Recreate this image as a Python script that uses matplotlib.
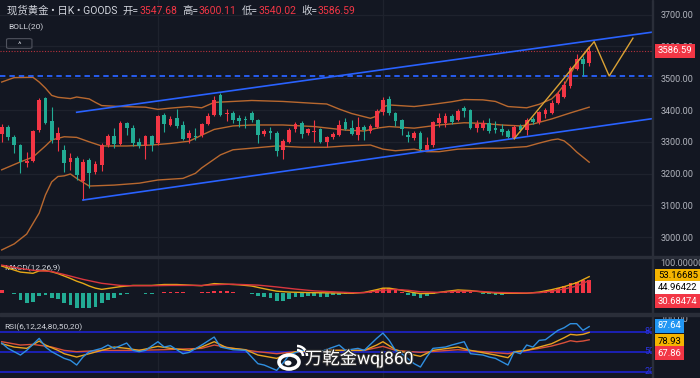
import matplotlib
matplotlib.use("Agg")
import matplotlib.pyplot as plt
import matplotlib.transforms as mtransforms
import matplotlib.patheffects as pe
from matplotlib.patches import Rectangle, Ellipse, Arc, FancyBboxPatch
import numpy as np

plt.rcParams['font.family'] = ['Roboto', 'Noto Sans CJK SC', 'DejaVu Sans']

# ---- daily candles (oldest first) ----
opens = [3325, 3347, 3316, 3290, 3235, 3241, 3337, 3437, 3364, 3306,
         3275, 3237, 3250, 3178, 3243, 3205, 3228, 3290, 3317, 3293,
         3358, 3345, 3300, 3288, 3318, 3297, 3385, 3353, 3375, 3353,
         3312, 3318, 3320, 3356, 3385, 3447, 3388, 3392, 3374, 3370,
         3390, 3368, 3325, 3333, 3328, 3273, 3300, 3340, 3359, 3327,
         3330, 3340, 3300, 3315, 3322, 3363, 3345, 3320, 3348, 3333,
         3348, 3395, 3435, 3390, 3368, 3320, 3311, 3328, 3275, 3290,
         3360, 3358, 3382, 3369, 3405, 3400, 3343, 3345, 3358, 3342,
         3341, 3334, 3313, 3351, 3338, 3372, 3362, 3388, 3390, 3421,
         3442, 3477, 3530, 3560, 3547.68]
highs = [3355, 3353, 3320, 3292, 3268, 3338, 3437, 3442, 3411, 3346,
         3290, 3265, 3256, 3245, 3250, 3240, 3295, 3325, 3345, 3365,
         3362, 3353, 3312, 3320, 3322, 3383, 3392, 3380, 3402, 3365,
         3337, 3345, 3360, 3390, 3443, 3455, 3403, 3398, 3385, 3380,
         3396, 3372, 3340, 3348, 3334, 3310, 3342, 3363, 3367, 3345,
         3368, 3345, 3318, 3330, 3369, 3375, 3368, 3378, 3353, 3355,
         3403, 3440, 3443, 3393, 3372, 3335, 3333, 3333, 3315, 3367,
         3390, 3390, 3386, 3402, 3412, 3403, 3370, 3368, 3374, 3364,
         3355, 3340, 3352, 3356, 3376, 3378, 3398, 3405, 3430, 3460,
         3490, 3540, 3575, 3570, 3600.11]
lows = [3300, 3305, 3266, 3203, 3222, 3237, 3330, 3355, 3297, 3272,
        3205, 3212, 3180, 3117, 3155, 3200, 3207, 3285, 3281, 3290,
        3322, 3287, 3280, 3245, 3270, 3290, 3332, 3350, 3343, 3305,
        3296, 3305, 3315, 3352, 3380, 3380, 3365, 3360, 3348, 3345,
        3362, 3296, 3318, 3310, 3255, 3246, 3296, 3332, 3312, 3323,
        3298, 3295, 3284, 3310, 3317, 3337, 3320, 3306, 3306, 3328,
        3345, 3385, 3385, 3350, 3322, 3300, 3305, 3270, 3272, 3285,
        3348, 3346, 3355, 3365, 3378, 3340, 3330, 3336, 3327, 3328,
        3322, 3312, 3310, 3330, 3320, 3355, 3355, 3375, 3388, 3418,
        3438, 3470, 3525, 3506, 3540.02]
closes = [3348, 3316, 3290, 3237, 3241, 3334, 3432, 3360, 3306, 3327,
          3233, 3249, 3196, 3238, 3202, 3230, 3290, 3318, 3292, 3360,
          3343, 3296, 3288, 3317, 3289, 3380, 3355, 3372, 3350, 3310,
          3328, 3314, 3355, 3382, 3433, 3385, 3392, 3370, 3367, 3368,
          3368, 3322, 3334, 3328, 3272, 3302, 3338, 3356, 3325, 3340,
          3334, 3300, 3314, 3325, 3353, 3340, 3325, 3348, 3336, 3350,
          3398, 3432, 3390, 3367, 3340, 3316, 3328, 3276, 3290, 3363,
          3375, 3382, 3363, 3398, 3396, 3343, 3355, 3360, 3333, 3338,
          3330, 3316, 3348, 3337, 3369, 3362, 3393, 3400, 3421, 3450,
          3480, 3533, 3560, 3545, 3586.59]

# ---- BOLL(20) bands, read at selected candles ----
boll_up_idx = [0, 2, 5, 6, 7, 8, 9, 11, 12, 14, 15, 16, 19, 23, 25, 27, 30, 32, 34, 37,
               40, 45, 50, 52, 54, 56, 59, 60, 61, 62, 66, 69, 72, 74, 77, 79, 81, 84, 86, 88,
               89, 90, 91, 92, 93, 94]
boll_up = [3488, 3502, 3503, 3488, 3469, 3446, 3440, 3436, 3441, 3435, 3424, 3414, 3411, 3409,
           3402, 3406, 3411, 3407, 3424, 3427, 3430, 3427, 3421, 3419, 3403, 3389, 3374, 3381,
           3410, 3416, 3411, 3418, 3426, 3433, 3432, 3427, 3411, 3407, 3418, 3435, 3454, 3479,
           3513, 3548, 3573, 3598]
boll_mid_idx = [0, 3, 5, 7, 8, 10, 12, 14, 16, 20, 24, 27, 30, 32, 34, 37, 40, 45, 50, 55,
                58, 60, 62, 66, 70, 74, 77, 80, 83, 85, 88, 91, 94]
boll_mid = [3212, 3237, 3252, 3287, 3306, 3316, 3314, 3300, 3287, 3287, 3290, 3295, 3302, 3321,
            3339, 3350, 3353, 3353, 3348, 3337, 3334, 3343, 3348, 3343, 3353, 3360, 3358, 3353,
            3350, 3356, 3372, 3391, 3409]
boll_low_idx = [0, 2, 4, 6, 7, 8, 9, 10, 11, 12, 14, 18, 22, 25, 29, 31, 32, 35, 37, 40,
                44, 48, 52, 55, 59, 61, 63, 66, 68, 70, 73, 77, 80, 84, 86, 88, 89, 90, 91, 92, 94]
boll_low = [2960, 2979, 3010, 3076, 3133, 3174, 3191, 3193, 3199, 3185, 3161, 3164, 3170, 3180,
            3185, 3201, 3218, 3259, 3275, 3280, 3287, 3283, 3283, 3287, 3290, 3277, 3272, 3277,
            3269, 3269, 3277, 3280, 3280, 3285, 3296, 3306, 3309, 3303, 3287, 3268, 3236]

# ---- drawn objects (candle index, price) ----
channel_top_idx, channel_top = [12, 104.5], [3393, 3646]
channel_bot_idx, channel_bot = [13, 104.5], [3117, 3374]
zigzag_idx, zigzag = [82, 94.8, 97.2, 101], [3310, 3615, 3507, 3626]
dash_level = 3507
last_close = 3586.59

# ---- MACD(12,26,9) ----
macd_hist = [8, -2, -4, -24, -33, -30, -11, -7, -18, -22,
             -35, -40, -51, -51, -51, -48, -35, -24, -18, -8,
             -3, -2, -2, -3, -3, -1, 2, 3, 3, 1,
             -1, -1, 1, 3, 6, 6, 5, 2, -1, -2,
             -3, -11, -13, -18, -26, -26, -22, -15, -13, -11,
             -11, -13, -13, -8, -6, -4, -3, -2, -1, 4,
             9, 15, 15, 10, 3, -8, -12, -18, -12, -5,
             -2, 1, 4, 6, 6, 2, -1, -3, -5, -6,
             -6, -5, -4, -2, -1, 1, 2, 6, 10, 16,
             22, 32, 36, 41, 42]
dif_idx = [0, 3, 5, 6, 7, 8, 9, 10, 11, 12, 13, 14, 15, 16, 17, 18, 19, 21, 24, 26,
           28, 30, 32, 34, 36, 38, 40, 42, 44, 46, 48, 50, 54, 56, 58, 60, 61, 62, 64, 66,
           67, 69, 71, 73, 75, 77, 80, 84, 86, 88, 90, 92, 94]
dif = [88, 68, 64, 72, 73, 69, 63, 55, 47, 38, 31, 22, 15, 11, 14, 17, 20, 24, 24, 27,
       27, 25, 23, 30, 28, 26, 22, 13, 5, 2, 1, 0, -1, -2, 1, 10, 15, 15, 8, 0,
       -3, -2, 4, 9, 7, 2, -2, -2, 2, 10, 20, 33, 53]
dea_idx = [0, 3, 5, 8, 10, 13, 16, 19, 21, 24, 27, 32, 35, 37, 41, 44, 47, 50, 56, 58,
           61, 63, 65, 67, 70, 73, 76, 79, 84, 86, 88, 90, 92, 94]
dea = [91, 80, 74, 70, 60, 44, 31, 24, 23, 23, 24, 24, 27, 28, 25, 19, 12, 6, 0, 0,
       8, 11, 8, 3, 1, 5, 5, 1, -1, 0, 5, 12, 22, 40]

# ---- RSI(6,12,24) ----
rsi6_idx = [0, 1, 3, 4, 6, 7, 8, 10, 11, 12, 13, 14, 16, 17, 18, 20, 21, 22, 23, 25,
            26, 27, 29, 30, 32, 34, 35, 37, 39, 40, 41, 42, 44, 45, 46, 48, 51, 54, 55, 57,
            58, 60, 61, 62, 63, 64, 66, 67, 68, 69, 71, 72, 74, 75, 77, 78, 79, 81, 82, 83,
            84, 85, 86, 87, 88, 89, 90, 91, 92, 93, 94]
rsi6 = [63, 55, 45, 52, 70, 57, 50, 40, 37, 30, 42, 50, 55, 60, 55, 63, 52, 50, 52, 65,
        57, 59, 47, 49, 60, 72, 57, 53, 52, 42, 32, 30, 22, 33, 45, 52, 50, 60, 52, 55,
        52, 70, 78, 67, 52, 47, 32, 27, 42, 55, 57, 60, 65, 47, 45, 42, 40, 30, 50, 47,
        60, 57, 67, 68, 75, 82, 86, 92, 92, 82, 87.64]
rsi12_idx = [0, 2, 4, 6, 7, 9, 10, 12, 14, 16, 18, 20, 22, 25, 27, 30, 32, 34, 36, 39,
             41, 44, 45, 47, 53, 58, 60, 61, 63, 66, 67, 69, 73, 75, 79, 81, 82, 84, 86, 88,
             90, 91, 92, 93, 94]
rsi12 = [62, 57, 55, 66, 60, 52, 47, 42, 47, 52, 57, 55, 52, 58, 55, 52, 57, 65, 56, 53,
         45, 40, 44, 50, 52, 52, 60, 65, 53, 45, 43, 52, 57, 52, 45, 41, 50, 52, 57, 62,
         71, 76, 75, 76, 78.93]
rsi24_idx = [0, 3, 5, 8, 10, 12, 16, 21, 26, 32, 34, 37, 41, 44, 47, 53, 58, 61, 63, 67,
             73, 77, 81, 84, 86, 88, 90, 91, 92, 93, 94]
rsi24 = [65, 60, 61, 57, 52, 50, 52, 52, 53, 55, 60, 55, 50, 47, 50, 52, 52, 58, 52, 49,
         53, 50, 47, 52, 55, 58.5, 63.5, 66.5, 65, 66, 67.86]
rsi_levels = [80, 50, 20]

price_ticks = [3000, 3100, 3200, 3300, 3400, 3500, 3600, 3700]
month_lines = [25, 61]

# ---- colours ----
BG = '#131722'
SEP = '#2a2e39'
GRID = '#1e222d'
TXT = '#d1d4dc'
AX_TXT = '#b2b5be'
UP = '#f23645'
DOWN = '#22ab94'
BOLL = '#b8682f'
BLUE = '#2962ff'
LEVEL = '#1c22c0'

W, H = 700, 378
fig = plt.figure(figsize=(W / 100, H / 100), dpi=100, facecolor=BG)


def panel(top, bottom):
    a = fig.add_axes([0, 1 - bottom / H, 652 / W, (bottom - top) / H])
    a.set_facecolor(BG)
    for s in a.spines.values():
        s.set_visible(False)
    a.yaxis.tick_right()
    a.tick_params(axis='y', length=0, pad=6, labelsize=6.5, labelcolor=AX_TXT)
    a.tick_params(axis='x', length=0, labelbottom=False)
    a.set_xlim(-0.27, 104.05)
    a.set_xticks(month_lines)
    a.grid(True, axis='x', color=GRID, lw=0.9)
    a.set_axisbelow(True)
    return a


ax = panel(0, 256)
axm = panel(258, 313)
axr = panel(316, 378)

# ---- main candles ----
idx = np.arange(len(opens))
o, h, l, c = map(np.array, (opens, highs, lows, closes))
cols = np.where(c >= o, UP, DOWN)
ax.vlines(idx, l, h, colors=cols, lw=0.8, zorder=3)
body = np.maximum(np.abs(c - o), 2.5)
ax.bar(idx, body, bottom=np.minimum(o, c), width=0.62, color=cols, lw=0, zorder=4)

ax.plot(boll_up_idx, boll_up, color=BOLL, lw=1.0, zorder=2)
ax.plot(boll_mid_idx, boll_mid, color=BOLL, lw=1.0, zorder=2)
ax.plot(boll_low_idx, boll_low, color=BOLL, lw=1.0, zorder=2)

ax.plot(channel_top_idx, channel_top, color=BLUE, lw=1.2, zorder=5)
ax.plot(channel_bot_idx, channel_bot, color=BLUE, lw=1.2, zorder=5)
ax.plot(zigzag_idx, zigzag, color='#dba235', lw=1.0, zorder=6)
ax.axhline(dash_level, color=BLUE, lw=1.3, ls=(0, (3, 2.2)), zorder=2)
ax.axhline(last_close, color='#b8323c', lw=0.8, ls=(0, (1, 1.5)), zorder=2)

ax.set_ylim(2941, 3746)
ax.set_yticks(price_ticks)
ax.set_yticklabels([f'{v:.2f}' for v in price_ticks])
ax.grid(True, axis='y', color=GRID, lw=0.9)

# ---- MACD panel ----
hcols = [UP if v >= 0 else DOWN for v in macd_hist]
axm.bar(idx, macd_hist, width=0.62, color=hcols, lw=0, zorder=3)
axm.plot(dif_idx, dif, color='#e6a817', lw=1.0, zorder=4)
axm.plot(dea_idx, dea, color='#d9363e', lw=1.0, zorder=4)
axm.set_ylim(-67, 114.5)
axm.set_yticks([100])
axm.set_yticklabels(['100.00000'])

# ---- RSI panel ----
for lv in rsi_levels:
    axr.axhline(lv, color=LEVEL, lw=1.3, zorder=2)
    axr.text(1.004, lv, str(lv), transform=mtransforms.blended_transform_factory(axr.transAxes, axr.transData),
             ha='right', va='center', fontsize=6.5, color='#2c34e0', clip_on=False, zorder=3)
axr.plot(rsi24_idx, rsi24, color='#d9503a', lw=1.0, zorder=4)
axr.plot(rsi12_idx, rsi12, color='#e8a320', lw=1.0, zorder=5)
axr.plot(rsi6_idx, rsi6, color='#2f8fe0', lw=1.0, zorder=6)
axr.set_ylim(10.55, 103.55)
axr.set_yticks([100])
axr.set_yticklabels(['100.00'])


# ---- value tags on the right scale ----
def tag(a, y, text, fc, tc, data_y=False):
    tr = mtransforms.blended_transform_factory(a.transAxes, a.transData if data_y else a.transAxes)
    a.text(1.009, y, text, transform=tr, ha='left', va='center', fontsize=6.8, color=tc,
           bbox=dict(boxstyle='square,pad=0.28', fc=fc, ec='none'), clip_on=False, zorder=20)


tag(ax, last_close, f'{last_close:.2f}', UP, 'white', data_y=True)
tag(axm, 0.673, '53.16685', '#f5b400', 'black')
tag(axm, 0.455, '44.96422', 'white', 'black')
tag(axm, 0.218, '30.68474', UP, 'white')
tag(axr, 0.839, '87.64', '#2196f3', 'white')
tag(axr, 0.592, '78.93', '#f5b400', 'black')
tag(axr, 0.398, '67.86', UP, 'white')

# ---- header texts ----
pieces = [('现货黄金 • 日K • GOODS', TXT), ('开=', TXT), ('3547.68', UP), ('高=', TXT), ('3600.11', UP),
          ('低=', TXT), ('3540.02', UP), ('收=', TXT), ('3586.59', UP)]
gaps = [0, 4, 0, 4, 0, 4, 0, 4, 0]
t = fig.text(7 / W, 1 - 11 / H, pieces[0][0], color=pieces[0][1], fontsize=7.5, va='center')
for (s, col), g in zip(pieces[1:], gaps[1:]):
    t = ax.annotate(s, xy=(1, 0), xycoords=t, xytext=(g, 0), textcoords='offset points',
                    va='bottom', color=col, fontsize=7.5, annotation_clip=False)

ax.text(0.012, 0.895, 'BOLL(20)', transform=ax.transAxes, fontsize=6, color=TXT, va='center')
# collapse button under the BOLL label
ax.add_patch(FancyBboxPatch((0.014, 0.815), 0.031, 0.03, boxstyle='round,pad=0.004',
                            transform=ax.transAxes, fc='none', ec='#50535e', lw=0.8, zorder=7))
ax.text(0.0295, 0.826, '^', transform=ax.transAxes, fontsize=6, color=TXT, ha='center', va='center', zorder=7)
axm.text(0.006, 0.818, 'MACD(12,26,9)', transform=axm.transAxes, fontsize=6, color=TXT, va='center')
axr.text(0.006, 0.823, 'RSI(6,12,24,80,50,20)', transform=axr.transAxes, fontsize=6, color=TXT, va='center')

# ---- panel separators ----
fig.add_artist(Rectangle((0, 1 - 258 / H), 1, 2 / H, transform=fig.transFigure, color=SEP, zorder=5))
fig.add_artist(Rectangle((0, 1 - 316 / H), 1, 3 / H, transform=fig.transFigure, color=SEP, zorder=5))
fig.add_artist(Rectangle((652 / W, 0), 1.2 / W, 1, transform=fig.transFigure, color=SEP, zorder=5))

# ---- watermark ----
fig.add_artist(Ellipse((289 / W, 1 - 362 / H), 20 / W, 14 / H, transform=fig.transFigure,
                       fc='none', ec='white', lw=2.6, zorder=6))
fig.add_artist(Ellipse((288 / W, 1 - 363 / H), 7 / W, 5 / H, transform=fig.transFigure,
                       fc='white', ec='none', zorder=6))
for r in (6, 10):
    fig.add_artist(Arc((297 / W, 1 - 356 / H), 2 * r / W, 2 * r / H, theta1=0, theta2=90,
                       transform=fig.transFigure, color='white', lw=1.8, zorder=6))
fig.text(305 / W, 1 - 358 / H, '万乾金wqj860', fontsize=12.5, color='white', va='center', zorder=7,
         path_effects=[pe.withStroke(linewidth=1.5, foreground='#333333')])

fig.savefig('out.png', dpi=100, facecolor=BG)
